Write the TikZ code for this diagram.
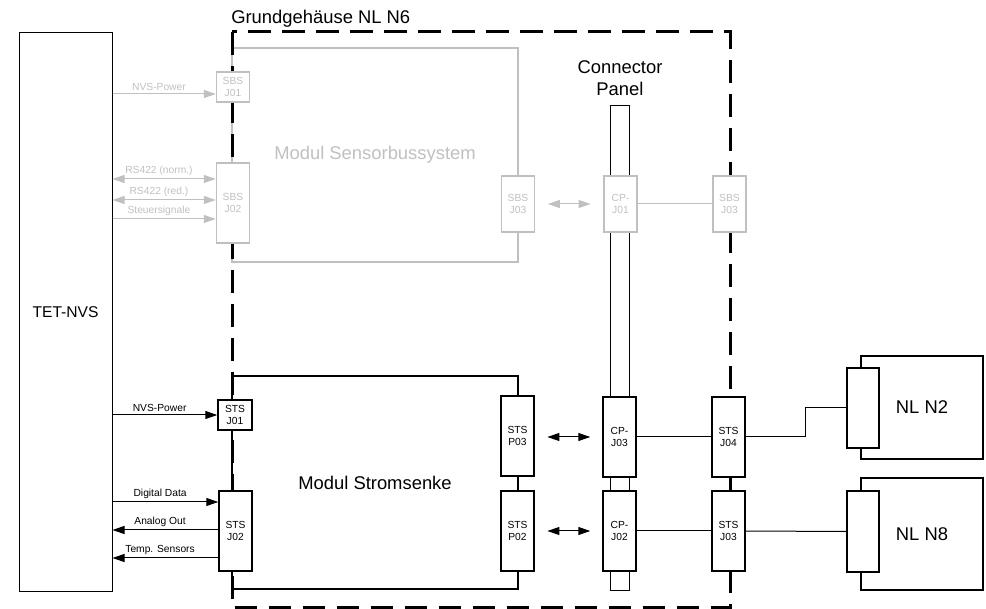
\documentclass[tikz,border=0pt]{standalone}
\usepackage{fontspec}
\setmainfont{Liberation Sans}
\usepackage{tikz}
\usetikzlibrary{arrows.meta}

\definecolor{sbsgray}{RGB}{192,192,192}

\begin{document}
\begin{tikzpicture}[x=0.75pt, y=-0.75pt, >={Triangle[length=9pt,width=6pt]},
	big/.style={font=\fontsize{13.8}{16.5}\selectfont},
	small/.style={font=\fontsize{7.7}{9.6}\selectfont},
	conn/.style={draw, fill=white, line width=1.1pt, inner sep=0pt, minimum width=24.75pt, align=center, small},
	gconn/.style={conn, draw=sbsgray, text=sbsgray},
	sig/.style={line width=0.75pt},
	gsig/.style={sig, draw=sbsgray},
	lbl/.style={pos=0.45, above, inner sep=2pt, small},
	border/.style={line width=2.25pt, dash pattern=on 17pt off 8.5pt}
]
	\useasboundingbox (0,0) rectangle (986,609);

	% TET-NVS and the housing
	\node[draw, line width=0.75pt, minimum width=69.75pt, minimum height=418.5pt, font=\fontsize{11.7}{14}\selectfont] (tet) at (65.5,312) {TET-NVS};
	\node[draw=sbsgray, line width=1pt, minimum width=214.5pt, minimum height=160.5pt, text=sbsgray, big] (sbs) at (375,155) {Modul Sensorbussystem};
	\draw[border] (232,32) rectangle (730,607.5);
	\node[anchor=base west, inner sep=0pt, big] (title) at (231,24) {Grundgeh\"ause NL N6};
	\node[draw, line width=1.1pt, minimum width=214.5pt, minimum height=159.75pt, big] (sts) at (375,482.5) {Modul Stromsenke};

	% connector panel
	\node[draw, line width=0.75pt, minimum width=14.25pt, minimum height=363pt] (panel) at (619.5,348) {};
	\node[align=center, big] (paneltext) at (620,78) {Connector\\Panel};

	% sensorbus connectors
	\node[gconn, minimum height=22.5pt] (sbsa) at (233,87) {SBS\\J01};
	\node[gconn, minimum height=60pt] (sbsb) at (233,203) {SBS\\J02};
	\node[gconn, minimum height=42pt] (sbsc) at (518,204) {SBS\\J03};
	\node[gconn, minimum height=42pt] (cpa) at (620.5,204) {CP-\\J01};
	\node[gconn, minimum height=42pt] (sbsd) at (729.5,204) {SBS\\J03};

	% stromsenke connectors
	\node[conn, minimum width=25.5pt, minimum height=22.5pt] (stsa) at (235,415) {STS\\J01};
	\node[conn, minimum height=60pt] (stsb) at (235.5,531) {STS\\J02};
	\node[conn, minimum height=60pt] (stsp3) at (517.5,436) {STS\\P03};
	\node[conn, minimum height=60pt] (stsp2) at (517.5,531) {STS\\P02};
	\node[conn, minimum height=60pt] (cpc) at (619.5,437) {CP-\\J03};
	\node[conn, minimum height=60pt] (cpb) at (619.5,531) {CP-\\J02};
	\node[conn, minimum height=60pt] (stsc) at (728.5,437) {STS\\J04};
	\node[conn, minimum height=60pt] (stsd) at (728.5,531) {STS\\J03};

	% NL N2 / NL N8
	\node[draw, line width=1.1pt, minimum width=91.5pt, minimum height=77.25pt, big] (nla) at (922,407.5) {NL N2};
	\node[draw, line width=1.1pt, minimum width=91.5pt, minimum height=84pt, big] (nlb) at (922,534) {NL N8};
	\node[conn, minimum width=24pt, minimum height=60pt] (nlcona) at (863,408) {};
	\node[conn, minimum width=24pt, minimum height=60.75pt] (nlconb) at (863,531.5) {};

	% gray signals
	\draw[gsig, ->] (tet.east |- 0,94) -- (sbsa.west |- 0,94) node[lbl, text=sbsgray] {NVS-Power};
	\draw[gsig, <->] (tet.east |- 0,179) -- (sbsb.west |- 0,179) node[lbl, text=sbsgray] {RS422 (norm.)};
	\draw[gsig, <->] (tet.east |- 0,200) -- (sbsb.west |- 0,200) node[lbl, text=sbsgray] {RS422 (red.)};
	\draw[gsig, ->] (tet.east |- 0,219) -- (sbsb.west |- 0,219) node[lbl, text=sbsgray] {Steuersignale};
	\draw[gsig, <->, shorten <=9.5pt, shorten >=9.5pt] (sbsc) -- (cpa);
	\draw[gsig] (cpa) -- (sbsd);

	% black signals
	\draw[sig, ->] (tet.east |- stsa) -- (stsa) node[lbl] {NVS-Power};
	\draw[sig, ->] (tet.east |- 0,502) -- (stsb.west |- 0,502) node[lbl] {Digital Data};
	\draw[sig, <-] (tet.east |- 0,530) -- (stsb.west |- 0,530) node[lbl] {Analog Out};
	\draw[sig, <-] (tet.east |- 0,558) -- (stsb.west |- 0,558) node[lbl] {Temp. Sensors};
	\draw[sig, <->, shorten <=9.5pt, shorten >=9pt] (stsp3.east |- cpc) -- (cpc);
	\draw[sig, <->, shorten <=9.5pt, shorten >=9pt] (stsp2) -- (cpb);
	\draw[sig] (cpc) -- (stsc);
	\draw[sig] (cpb) -- (stsd);
	\draw[sig] (stsc.east) -- ++(60,0) |- (nlcona.west);
	\draw[sig] (stsd.east) -- (nlconb.west);
\end{tikzpicture}
\end{document}
